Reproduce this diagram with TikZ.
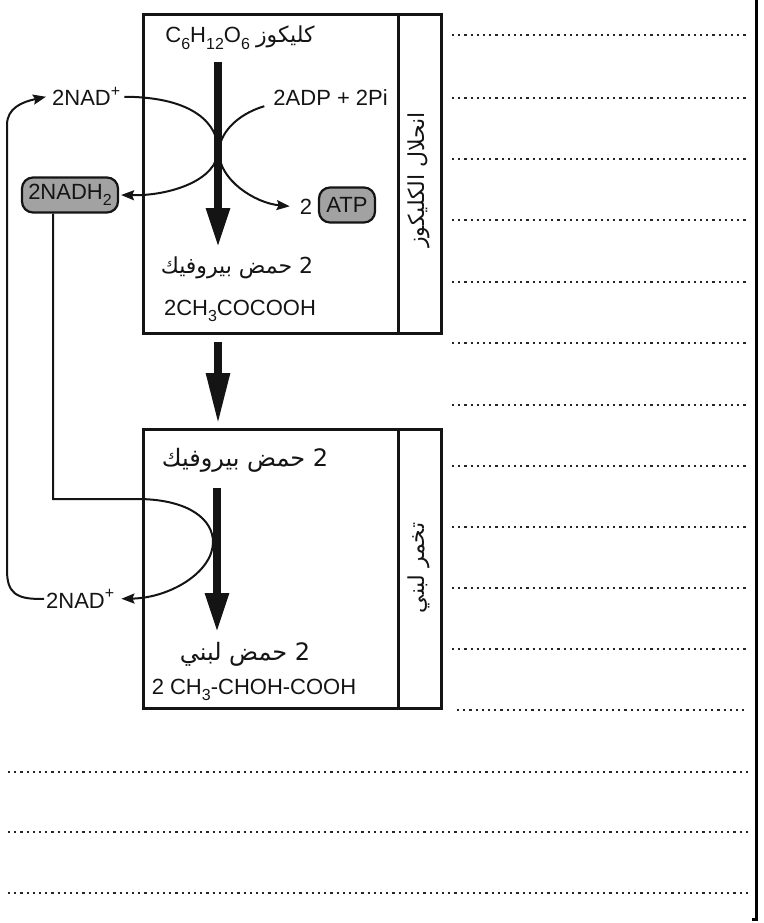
\documentclass[tikz,border=0pt]{standalone}
\usepackage{fontspec}
\setmainfont{Liberation Sans}
\newfontfamily\arabicfont[Script=Arabic]{DejaVu Sans}
\TeXXeTstate=1
\usetikzlibrary{arrows.meta}
\definecolor{pillgray}{RGB}{162,162,162}
\definecolor{inkc}{RGB}{20,20,20}
\newcommand\lowsub[1]{\raisebox{-0.28em}{\fontsize{16}{16}\selectfont #1}}
\newcommand\highsup[1]{\raisebox{0.42em}{\fontsize{16}{16}\selectfont #1}}
\begin{document}
\begin{tikzpicture}[x=1pt,y=-1pt,
  txt/.style={inner sep=0pt, text=inkc, font=\fontsize{22}{26}\selectfont},
  artxt/.style={inner sep=0pt, text=inkc, font=\arabicfont\fontsize{22}{26}\selectfont},
  artxtbig/.style={inner sep=0pt, text=inkc, font=\arabicfont\fontsize{24}{28}\selectfont},
  boxline/.style={draw=inkc, line width=2.6pt, inner sep=0pt},
  conn/.style={draw=inkc, line width=2pt, -{Stealth[length=13pt,width=10pt,inset=2pt]}},
  bigarrow/.style={draw=inkc, line width=8.5pt, -{Triangle[length=40pt,width=22pt]}},
  pill/.style={draw=inkc, line width=2.2pt, fill=pillgray, rounded corners=11pt, inner sep=0pt, minimum height=35pt, text=inkc, font=\fontsize{22}{26}\selectfont},
  dotline/.style={draw=black!85, line width=2.1pt, dash pattern=on 2.1pt off 4.1pt}
]
\useasboundingbox (0,0) rectangle (763,923);

% boxes
\node[boxline, anchor=north west, minimum width=255pt, minimum height=319pt] (glyco) at (142,13) {};
\node[boxline, anchor=north west, minimum width=43pt, minimum height=319pt] (glystrip) at (397,13) {};
\node[boxline, anchor=north west, minimum width=255pt, minimum height=279pt] (ferm) at (142,428) {};
\node[boxline, anchor=north west, minimum width=43pt, minimum height=279pt] (fermstrip) at (397,428) {};

% strip labels
\node[artxt, rotate=90] (glyname) at (419,180) {\beginR انحلال الكليكوز\endR};
\node[artxt, rotate=90] (fermname) at (419,568) {\beginR تخمر لبني\endR};

% texts in top box
\node[txt, anchor=base] (glucose) at (240,43) {C\lowsub{6}H\lowsub{12}O\lowsub{6} {\arabicfont\beginR كليكوز\endR}};
\node[artxt, anchor=base] (pyr1) at (237,273) {\beginR 2 حمض بيروفيك\endR};
\node[txt, anchor=base] (pyrf) at (240,315) {2CH\lowsub{3}COCOOH};
\node[txt, anchor=base west] (nadA) at (52,106) {2NAD\highsup{+}};
\node[txt, anchor=base east] (adp) at (388,106) {2ADP + 2Pi};
\node[pill, minimum width=96pt] (nadh) at (70,195) {2NADH\lowsub{2}};
\node[txt, anchor=base] (two) at (306,214) {2};
\node[pill, minimum width=56pt] (atp) at (347,205) {ATP};

% texts in bottom box
\node[artxtbig, anchor=base] (pyr2) at (245,466) {\beginR 2 حمض بيروفيك\endR};
\node[artxtbig, anchor=base] (lact) at (245,660) {\beginR 2 حمض لبني\endR};
\node[txt, anchor=base] (lactf) at (254,694) {2 CH\lowsub{3}-CHOH-COOH};
\node[txt, anchor=base west] (nadB) at (46,608) {2NAD\highsup{+}};

% big arrows
\coordinate (a1s) at (218,62);  \coordinate (a1e) at (218,248);
\coordinate (a2s) at (218,342); \coordinate (a2e) at (218,425);
\coordinate (a3s) at (217,488); \coordinate (a3e) at (217,633);
\draw[bigarrow] (a1s) -- (a1e);
\draw[bigarrow, -{Triangle[length=52pt,width=22pt]}] (a2s) -- (a2e);
\draw[bigarrow] (a3s) -- (a3e);

% curved connectors, top
\draw[conn] ([xshift=4pt]nadA.east) .. controls (195,97) and (218,125) .. (218,150)
  .. controls (218,180) and (170,196) .. ([xshift=2pt]nadh.east);
\draw[conn] ([xshift=-9pt]adp.south west) .. controls (235,115) and (219,135) .. (219,152)
  .. controls (219,180) and (255,203) .. ([xshift=-10pt]two.west);

% lower loop
\draw[conn] ([xshift=-17pt]nadh.south) |- (140,499) .. controls (190,500) and (213,520) .. (213,542)
  .. controls (213,572) and (170,598) .. ([xshift=7pt]nadB.east);
\draw[conn] ([xshift=-2pt]nadB.west) .. controls (15,600) and (7,592) .. (7,570) -- (7,125)
  .. controls (7,108) and (22,102) .. ([xshift=-6pt]nadA.west);

% dotted writing lines
\foreach \yy in {35,98,159,220,282,343,405,466,527,588,649}
  \draw[dotline] (452,\yy) -- (748,\yy);
\draw[dotline] (457,710) -- (748,710);
\foreach \yy in {772,832,893}
  \draw[dotline] (8,\yy) -- (748,\yy);

% right border bar
\draw[draw=black, line width=3pt] (756,-2) -- (756,919) -- (752,919);
\end{tikzpicture}
\end{document}
